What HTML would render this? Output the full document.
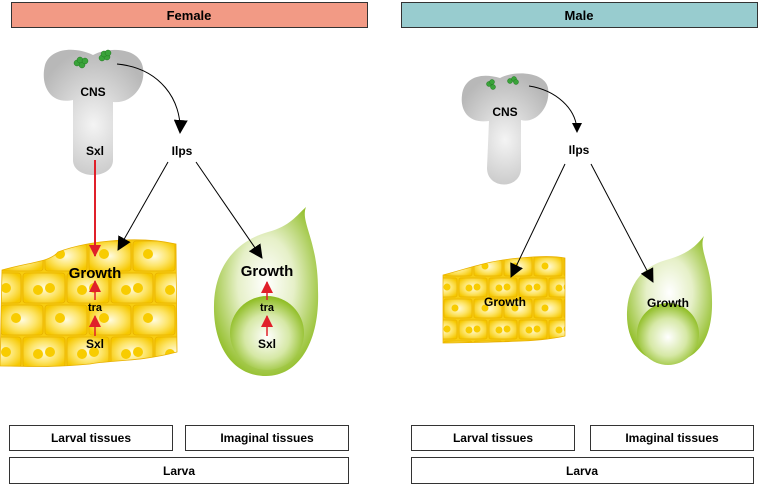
<!DOCTYPE html>
<html><head><meta charset="utf-8"><style>
body{margin:0;background:#fff}
svg{display:block;font-family:"Liberation Sans",Arial,sans-serif;font-weight:bold}
</style></head><body>
<svg width="760" height="486" viewBox="0 0 760 486" xmlns="http://www.w3.org/2000/svg">
<defs>
<radialGradient id="cell" cx="0.5" cy="0.5" r="0.6"><stop offset="0" stop-color="#fffbe0"/><stop offset="0.55" stop-color="#fde56a"/><stop offset="1" stop-color="#f6c800"/></radialGradient>
<radialGradient id="grey" cx="0.5" cy="0.6" r="0.6"><stop offset="0" stop-color="#f4f4f4"/><stop offset="1" stop-color="#b8b8b8"/></radialGradient>
<radialGradient id="drop" cx="0.5" cy="0.45" r="0.6"><stop offset="0" stop-color="#ffffff"/><stop offset="0.45" stop-color="#e6f0c8"/><stop offset="1" stop-color="#8cbb1e"/></radialGradient>
<radialGradient id="inner" cx="0.5" cy="0.55" r="0.55"><stop offset="0" stop-color="#ffffff"/><stop offset="0.55" stop-color="#d6e8a6"/><stop offset="1" stop-color="#8cbb1e"/></radialGradient>
<pattern id="pf" width="44" height="64" patternUnits="userSpaceOnUse" x="0" y="240">
<rect width="44" height="64" fill="#f7cc10"/>
<rect x="1" y="1" width="42" height="30" rx="3" fill="url(#cell)" stroke="#e8b000" stroke-width="0.8"/>
<rect x="-21" y="33" width="42" height="30" rx="3" fill="url(#cell)" stroke="#e8b000" stroke-width="0.8"/>
<rect x="23" y="33" width="42" height="30" rx="3" fill="url(#cell)" stroke="#e8b000" stroke-width="0.8"/>
<circle cx="16" cy="14" r="5" fill="#f8cc00"/><circle cx="6" cy="48" r="5" fill="#f8cc00"/><circle cx="38" cy="50" r="5" fill="#f8cc00"/>
</pattern>
<pattern id="pm" width="30" height="42" patternUnits="userSpaceOnUse" x="443" y="256">
<rect width="30" height="42" fill="#f7cc10"/>
<rect x="1" y="1" width="28" height="19" rx="2" fill="url(#cell)" stroke="#e8b000" stroke-width="0.7"/>
<rect x="-14" y="22" width="28" height="19" rx="2" fill="url(#cell)" stroke="#e8b000" stroke-width="0.7"/>
<rect x="16" y="22" width="28" height="19" rx="2" fill="url(#cell)" stroke="#e8b000" stroke-width="0.7"/>
<circle cx="12" cy="10" r="3.5" fill="#f8cc00"/><circle cx="4" cy="31" r="3.5" fill="#f8cc00"/><circle cx="26" cy="32" r="3.5" fill="#f8cc00"/>
</pattern>
<marker id="ab" markerWidth="10" markerHeight="10" refX="9" refY="5" orient="auto" markerUnits="userSpaceOnUse"><path d="M0,0 L10,5 L0,10 z" fill="#000"/></marker>
<marker id="abL" markerWidth="14" markerHeight="14" refX="13" refY="7" orient="auto" markerUnits="userSpaceOnUse"><path d="M0,0 L14,7 L0,14 z" fill="#000"/></marker>
<marker id="ar" markerWidth="12" markerHeight="12" refX="11" refY="6" orient="auto" markerUnits="userSpaceOnUse"><path d="M0,0 L12,6 L0,12 z" fill="#e0202a"/></marker>
</defs>

<rect x="11.5" y="2.5" width="356" height="25" fill="#f29a85" stroke="#333"/>
<text x="189" y="20" font-size="13" text-anchor="middle">Female</text>
<rect x="401.5" y="2.5" width="356" height="25" fill="#98cccf" stroke="#333"/>
<text x="579" y="20" font-size="13" text-anchor="middle">Male</text>

<!-- Female CNS -->
<path d="M73,100 C50,105 40,85 45,65 C50,48 75,46 93,55 C110,46 140,48 143,68 C146,88 130,104 113,102 L113,160 C113,180 73,180 73,160 Z" fill="url(#grey)"/>
<g fill="#3aa33a" stroke="#1f7a1f" stroke-width="0.5"><circle cx="77" cy="63" r="3"/><circle cx="82" cy="65" r="3"/><circle cx="80" cy="60" r="3"/><circle cx="85" cy="61" r="3"/><circle cx="102" cy="58" r="3"/><circle cx="107" cy="57" r="3"/><circle cx="104" cy="54" r="3"/><circle cx="108" cy="53" r="3"/></g>
<text x="93" y="96" font-size="12" text-anchor="middle">CNS</text>
<text x="95" y="155" font-size="12" text-anchor="middle">Sxl</text>
<path d="M117,64 C160,68 182,100 180,133" fill="none" stroke="#000" stroke-width="1" marker-end="url(#abL)"/>
<text x="182" y="155" font-size="12" text-anchor="middle">Ilps</text>

<!-- Female larval tissue -->
<path d="M2,270 C30,262 50,262 58,252 C90,240 140,236 176,244 L177,352 C140,362 110,360 90,364 C50,368 20,366 0,366 Z" fill="url(#pf)" stroke="#e8b000" stroke-width="0.8"/>
<text x="95" y="278" font-size="15" text-anchor="middle">Growth</text>
<line x1="95" y1="300" x2="95" y2="281" stroke="#e0202a" stroke-width="1.5" marker-end="url(#ar)"/>
<text x="95" y="311" font-size="11" text-anchor="middle">tra</text>
<line x1="95" y1="336" x2="95" y2="316" stroke="#e0202a" stroke-width="1.5" marker-end="url(#ar)"/>
<text x="95" y="348" font-size="12" text-anchor="middle">Sxl</text>

<!-- Female imaginal disc -->
<path d="M306,207 C300,222 318,240 318,290 C320,340 300,376 266,376 C232,376 213,345 214,305 C215,262 240,240 268,232 C290,226 296,216 306,207 Z" fill="url(#drop)"/>
<circle cx="267" cy="333" r="37" fill="url(#inner)"/>
<text x="267" y="276" font-size="15" text-anchor="middle">Growth</text>
<line x1="267" y1="300" x2="267" y2="282" stroke="#e0202a" stroke-width="1.5" marker-end="url(#ar)"/>
<text x="267" y="311" font-size="11" text-anchor="middle">tra</text>
<line x1="267" y1="336" x2="267" y2="316" stroke="#e0202a" stroke-width="1.5" marker-end="url(#ar)"/>
<text x="267" y="348" font-size="12" text-anchor="middle">Sxl</text>

<!-- Female arrows (on top) -->
<line x1="95" y1="160" x2="95" y2="256" stroke="#e0202a" stroke-width="2" marker-end="url(#ar)"/>
<line x1="168" y1="162" x2="118" y2="250" stroke="#000" marker-end="url(#abL)"/>
<line x1="196" y1="162" x2="262" y2="258" stroke="#000" marker-end="url(#abL)"/>

<!-- Male CNS -->
<path d="M489,121 C468,124 460,110 462,95 C464,78 480,72 500,78 C515,70 545,72 548,88 C551,108 535,124 521,120 L521,168 C521,190 487,190 487,168 Z" fill="url(#grey)"/>
<g fill="#3aa33a" stroke="#1f7a1f" stroke-width="0.5"><circle cx="489" cy="84" r="2.5"/><circle cx="493" cy="87" r="2.5"/><circle cx="492" cy="82" r="2.5"/><circle cx="510" cy="81" r="2.5"/><circle cx="514" cy="79" r="2.5"/><circle cx="516" cy="82" r="2.5"/></g>
<text x="505" y="116" font-size="12" text-anchor="middle">CNS</text>
<path d="M529,86 C555,90 577,108 577,132" fill="none" stroke="#000" stroke-width="1" marker-end="url(#ab)"/>
<text x="579" y="154" font-size="12" text-anchor="middle">Ilps</text>

<!-- Male tissue -->
<path d="M443,275 C470,268 490,260 520,258 C540,256 555,256 565,258 L565,336 C540,342 500,342 443,343 Z" fill="url(#pm)" stroke="#e8b000" stroke-width="0.7"/>
<text x="505" y="306" font-size="12" text-anchor="middle">Growth</text>

<!-- Male disc -->
<path d="M704,236 C698,250 712,265 712,300 C713,338 698,362 668,362 C640,362 626,340 627,312 C628,282 645,266 666,260 C688,254 696,246 704,236 Z" fill="url(#drop)"/>
<circle cx="668" cy="334" r="31" fill="url(#inner)"/>
<text x="668" y="307" font-size="12" text-anchor="middle">Growth</text>

<line x1="565" y1="164" x2="511" y2="277" stroke="#000" marker-end="url(#abL)"/>
<line x1="591" y1="164" x2="653" y2="282" stroke="#000" marker-end="url(#abL)"/>

<g fill="#fff" stroke="#333" stroke-width="1">
<rect x="9.5" y="425.5" width="163" height="25"/><rect x="185.5" y="425.5" width="163" height="25"/><rect x="9.5" y="457.5" width="339" height="26"/>
<rect x="411.5" y="425.5" width="163" height="25"/><rect x="590.5" y="425.5" width="163" height="25"/><rect x="411.5" y="457.5" width="342" height="26"/>
</g>
<g font-size="12" text-anchor="middle">
<text x="91" y="442">Larval tissues</text><text x="267" y="442">Imaginal tissues</text><text x="179" y="475">Larva</text>
<text x="493" y="442">Larval tissues</text><text x="672" y="442">Imaginal tissues</text><text x="582" y="475">Larva</text>
</g>
</svg>
</body></html>
